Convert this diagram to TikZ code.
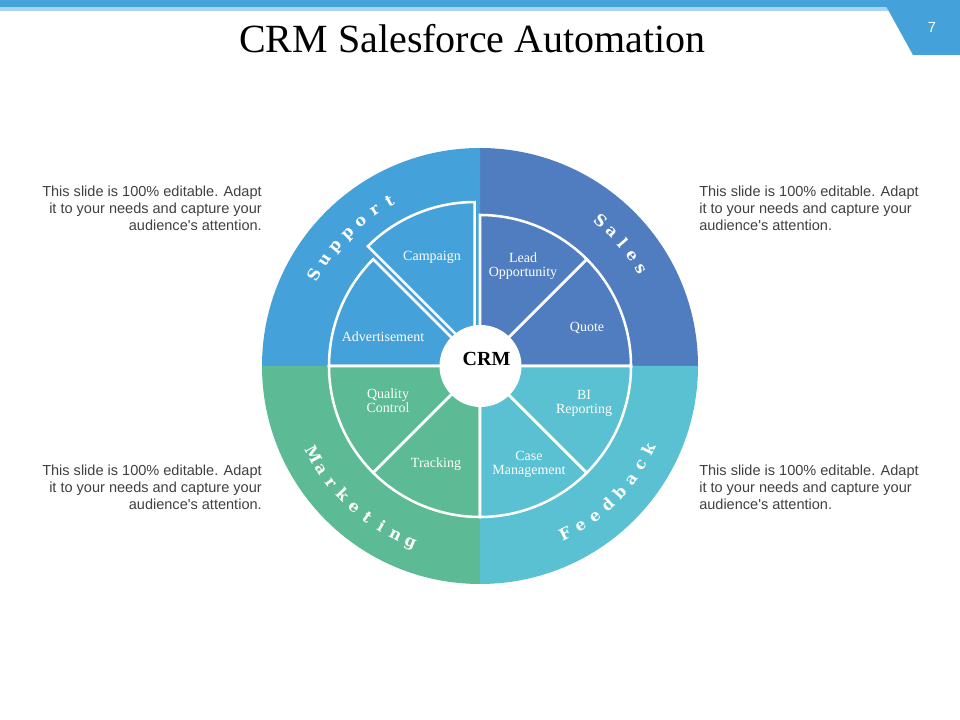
\documentclass[tikz,border=0pt]{standalone}
\usepackage{fontspec}
\setmainfont{Liberation Serif}
\newfontfamily\bodysans{Liberation Sans}
\newfontfamily\arcfont{DejaVu Serif}
\usetikzlibrary{calc}
\definecolor{supc}{HTML}{45A1D9}
\definecolor{salc}{HTML}{4F7DBF}
\definecolor{fedc}{HTML}{5AC1D3}
\definecolor{mktc}{HTML}{5CBB94}
\definecolor{barlight}{HTML}{A9D4EF}
\definecolor{bodyc}{HTML}{404040}
\begin{document}
\begin{tikzpicture}[x=0.75pt,y=0.75pt,
  seg/.style={draw=white,line width=1.9pt,line join=miter},
  lbl/.style={text=white,font=\fontsize{10.5}{10.5}\selectfont,align=center,inner sep=0pt},
  arcl/.style={text=white,font=\arcfont\bfseries\fontsize{12}{14}\selectfont,inner sep=0pt,anchor=base},
  body/.style={text=bodyc,font=\bodysans\fontsize{10.9}{12.75}\selectfont,inner sep=0pt}]
\useasboundingbox (0,0) rectangle (960,720);
\fill[white] (0,0) rectangle (960,720);
% top bar
\fill[barlight] (0,709) rectangle (888,713);
\fill[supc] (0,720) -- (960,720) -- (960,665) -- (913,665) -- (886.5,713) -- (0,713) -- cycle;
\node[text=white,font=\bodysans\fontsize{11}{12}\selectfont,inner sep=0pt] (pnum) at (932,693) {7};
% title
\node[anchor=base,font=\fontsize{30}{36}\selectfont,inner sep=0pt] (title) at (472.5,667) {CRM Salesforce Automation};
% circle
\coordinate (c) at (480,354);
\fill[salc] (c) -- ++(0:218) arc[start angle=0,end angle=90,radius=218] -- cycle;
\fill[supc] (c) -- ++(90:218) arc[start angle=90,end angle=180,radius=218] -- cycle;
\fill[mktc] (c) -- ++(180:218) arc[start angle=180,end angle=270,radius=218] -- cycle;
\fill[fedc] (c) -- ++(270:218) arc[start angle=270,end angle=360,radius=218] -- cycle;
% inner segments
\filldraw[seg,fill=salc] (c) -- ++(0:151) arc[start angle=0,end angle=45,radius=151] -- cycle;
\filldraw[seg,fill=salc] (c) -- ++(45:151) arc[start angle=45,end angle=90,radius=151] -- cycle;
\filldraw[seg,fill=supc] (c) -- ++(135:151) arc[start angle=135,end angle=180,radius=151] -- cycle;
\filldraw[seg,fill=mktc] (c) -- ++(180:151) arc[start angle=180,end angle=225,radius=151] -- cycle;
\filldraw[seg,fill=mktc] (c) -- ++(225:151) arc[start angle=225,end angle=270,radius=151] -- cycle;
\filldraw[seg,fill=fedc] (c) -- ++(270:151) arc[start angle=270,end angle=315,radius=151] -- cycle;
\filldraw[seg,fill=fedc] (c) -- ++(315:151) arc[start angle=315,end angle=360,radius=151] -- cycle;
\coordinate (cs) at ($(c)+(112.5:14)$);
\filldraw[seg,fill=supc] (cs) -- ++(90:151) arc[start angle=90,end angle=135,radius=151] -- cycle;
% centre
\node[circle,fill=white,minimum size=61.5pt,inner sep=0pt] (hub) at (480.5,354) {};
\node[font=\bfseries\fontsize{15}{18}\selectfont,inner sep=0pt] (crm) at (486.5,361) {CRM};
% segment labels
\node[lbl] (campaign) at (432,463) {Campaign};
\node[lbl] (lead) at (523,454) {Lead\\Opportunity};
\node[lbl] (quote) at (587,392) {Quote};
\node[lbl] (advert) at (383,383) {Advertisement};
\node[lbl] (bi) at (584,317) {BI\\Reporting};
\node[lbl] (quality) at (388,319) {Quality\\Control};
\node[lbl] (casem) at (529,256) {Case\\Management};
\node[lbl] (tracking) at (436,256) {Tracking};
% curved titles
\foreach \ch [count=\i from 0] in {S,u,p,p,o,r,t}
  \node[arcl,rotate={151.2-5.42*\i-90}] (sup\i) at ($(c)+({151.2-5.42*\i}:183)$) {\ch};
\foreach \ch [count=\i from 0] in {S,a,l,e,s}
  \node[arcl,rotate={50.3-4.83*\i-90}] (sal\i) at ($(c)+({50.3-4.83*\i}:183)$) {\ch};
\foreach \ch [count=\i from 0] in {F,e,e,d,b,a,c,k}
  \node[arcl,rotate={296.9+5.26*\i+90}] (fed\i) at ($(c)+({296.9+5.26*\i}:194)$) {\ch};
\foreach \ch [count=\i from 0] in {M,a,r,k,e,t,i,n,g}
  \node[arcl,rotate={208.1+5.05*\i+90}] (mkt\i) at ($(c)+({208.1+5.05*\i}:194)$) {\ch};
% side texts
\node[body,anchor=north east,align=right] (tl) at (262,534) {This slide is 100\% editable. Adapt\\it to your needs and capture your\\audience's attention.};
\node[body,anchor=north west,align=left] (tr) at (699,534) {This slide is 100\% editable. Adapt\\it to your needs and capture your\\audience's attention.};
\node[body,anchor=north east,align=right] (bl) at (262,255.7) {This slide is 100\% editable. Adapt\\it to your needs and capture your\\audience's attention.};
\node[body,anchor=north west,align=left] (br) at (699,255.7) {This slide is 100\% editable. Adapt\\it to your needs and capture your\\audience's attention.};
\end{tikzpicture}
\end{document}
